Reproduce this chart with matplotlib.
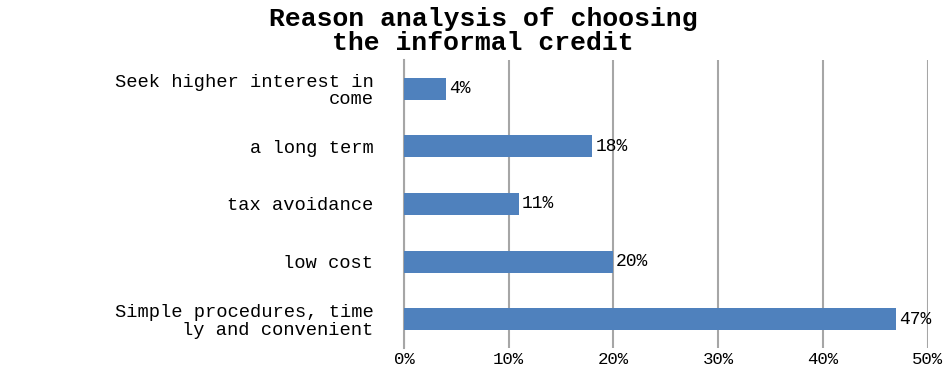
import matplotlib
matplotlib.use("Agg")
import matplotlib.pyplot as plt
from matplotlib.ticker import FuncFormatter

# data, bottom to top as drawn
categories = [
    "Simple procedures, time\nly and convenient",
    "low cost",
    "tax avoidance",
    "a long term",
    "Seek higher interest in\ncome",
]
shares = [47, 20, 11, 18, 4]
title = "Reason analysis of choosing\nthe informal credit"

BAR = "#4F81BD"
GRID = "#A6A6A6"
MONO = ["Liberation Mono", "DejaVu Sans Mono"]

fig = plt.figure(figsize=(9.47, 3.72), dpi=100)
ax = fig.add_axes([404 / 947, 1 - 348 / 372, (927.5 - 404) / 947, (348 - 60) / 372])

ypos = list(range(len(categories)))
ax.barh(ypos, shares, height=0.38, color=BAR, zorder=3)
for y, v in zip(ypos, shares):
    ax.annotate(f"{v}%", xy=(v, y), xytext=(2, 0), textcoords="offset points",
                ha="left", va="center", fontsize=13, family=MONO, zorder=4)

ax.set_xlim(0, 50)
ax.set_ylim(-0.5, len(categories) - 0.5)
ax.set_xticks(range(0, 51, 10))
ax.xaxis.set_major_formatter(FuncFormatter(lambda v, _: f"{v:.0f}%"))
ax.set_yticks(ypos)
ax.set_yticklabels(categories, family=MONO, fontsize=13.5, linespacing=1.05)
for lbl in ax.get_xticklabels():
    lbl.set_family(MONO)
    lbl.set_fontsize(12.5)

ax.grid(axis="x", color=GRID, lw=1.5, zorder=0)
ax.tick_params(axis="both", length=0)
ax.tick_params(axis="y", pad=22)
ax.tick_params(axis="x", pad=3)
for sp in ("top", "right", "bottom"):
    ax.spines[sp].set_visible(False)
ax.spines["left"].set_color(GRID)
ax.spines["left"].set_linewidth(1.5)

fig.text(0.51, 1 - 7 / 372, title, ha="center", va="top", fontsize=19,
         fontweight="bold", family=MONO, linespacing=0.98)

fig.savefig("out.png", dpi=100)
